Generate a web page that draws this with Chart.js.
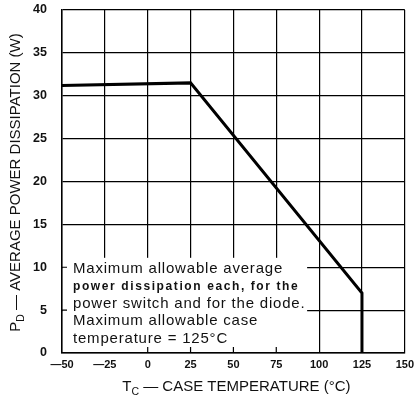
<!DOCTYPE html>
<html>
<head>
<meta charset="utf-8">
<script src="https://cdn.jsdelivr.net/npm/chart.js@4/dist/chart.umd.min.js"></script>
<style>
  html, body { margin: 0; padding: 0; background: #fff; }
  #chart { display: block; }
</style>
</head>
<body>
<canvas id="chart" width="419" height="403"></canvas>
<script>
// derating curve
var caseTemp = [-50, 25, 125, 125];
var powerDiss = [31.2, 31.5, 7, 0];

var xTicks = { min: -50, max: 150, step: 25 };
var yTicks = { min: 0, max: 40, step: 5 };

var noteLines = [
  "Maximum allowable average",
  "power dissipation each, for the",
  "power switch and for the diode.",
  "Maximum allowable case",
  "temperature = 125\u00b0C"
];

var FONT = "'Liberation Sans', Arial, sans-serif";

// white note box in the lower left, with the stubs that show through
var notePlugin = {
  id: "note",
  beforeDatasetsDraw(chart) {
    var ctx = chart.ctx, xs = chart.scales.x, ys = chart.scales.y, a = chart.chartArea;
    var left = a.left + 1, right = xs.getPixelForValue(93);
    var top = ys.getPixelForValue(11.1), bottom = a.bottom - 1;
    ctx.save();
    ctx.fillStyle = "#fff";
    ctx.fillRect(left, top, right - left, bottom - top);
    ctx.strokeStyle = "#000";
    ctx.lineWidth = 1.2;
    ctx.beginPath();
    [0, 25, 50, 75].forEach(function (v) {
      var px = xs.getPixelForValue(v);
      ctx.moveTo(px, a.bottom);
      ctx.lineTo(px, a.bottom - 6);
    });
    [5, 10].forEach(function (v) {
      var py = ys.getPixelForValue(v);
      ctx.moveTo(a.left, py);
      ctx.lineTo(a.left + 5, py);
    });
    ctx.stroke();

    ctx.fillStyle = "#111";
    ctx.textBaseline = "middle";
    ctx.textAlign = "left";
    var y0 = top + 11;
    noteLines.forEach(function (t, i) {
      if (i === 1) {
        ctx.font = "bold 12px " + FONT;
        ctx.letterSpacing = "1.6px";
      } else {
        ctx.font = "15px " + FONT;
        ctx.letterSpacing = "0.8px";
      }
      ctx.fillText(t, left + 10, y0 + i * 17.4);
    });
    ctx.restore();
  },
  afterDraw(chart) {
    var ctx = chart.ctx, a = chart.chartArea;
    ctx.save();
    ctx.fillStyle = "#111";
    ctx.textBaseline = "alphabetic";

    // x title with subscript
    var big = "15px " + FONT, small = "10.5px " + FONT;
    var xParts = [["T", big, 0], ["C", small, 4], [" \u2014 CASE TEMPERATURE (\u00b0C)", big, 0]];
    drawParts(ctx, xParts, (a.left + a.right) / 2 + 3, 391);

    // y title, rotated
    ctx.translate(20, (a.top + a.bottom) / 2 + 1);
    ctx.rotate(-Math.PI / 2);
    var yParts = [["P", big, 0], ["D", small, 4], [" \u2014 AVERAGE POWER DISSIPATION (W)", big, 0]];
    drawParts(ctx, yParts, 0, 0);
    ctx.restore();
  }
};

function drawParts(ctx, parts, cx, y) {
  var total = 0;
  parts.forEach(function (p) { ctx.font = p[1]; total += ctx.measureText(p[0]).width; });
  var x = cx - total / 2;
  parts.forEach(function (p) {
    ctx.font = p[1];
    ctx.fillText(p[0], x, y + p[2]);
    x += ctx.measureText(p[0]).width;
  });
}

var points = caseTemp.map(function (t, i) { return { x: t, y: powerDiss[i] }; });

new Chart(document.getElementById("chart"), {
  type: "line",
  data: {
    datasets: [{
      data: points,
      borderColor: "#000",
      borderWidth: 3,
      pointRadius: 0,
      tension: 0,
      fill: false
    }]
  },
  options: {
    responsive: false,
    animation: false,
    devicePixelRatio: 1,
    layout: { padding: { left: 0, top: 10, right: 14, bottom: 0 } },
    plugins: { legend: { display: false }, tooltip: { enabled: false } },
    scales: {
      x: {
        type: "linear",
        min: xTicks.min,
        max: xTicks.max,
        afterFit: function (s) { s.height = 50; },
        grid: { color: "#000", lineWidth: 1.2, drawTicks: false },
        border: { color: "#000", width: 1.5 },
        ticks: {
          stepSize: xTicks.step,
          padding: 5,
          color: "#111",
          font: { family: FONT, size: 11, weight: "bold" },
          maxRotation: 0,
          callback: function (v) { return v < 0 ? "\u2014" + Math.abs(v) : String(v); }
        }
      },
      y: {
        min: yTicks.min,
        max: yTicks.max,
        afterFit: function (s) { s.width = 62; s.paddingTop = 0; s.paddingBottom = 0; },
        grid: { color: "#000", lineWidth: 1.2, drawTicks: false },
        border: { color: "#000", width: 1.5 },
        ticks: {
          stepSize: yTicks.step,
          padding: 15,
          color: "#111",
          font: { family: FONT, size: 12.5, weight: "bold" }
        }
      }
    }
  },
  plugins: [notePlugin]
});
</script>
</body>
</html>
